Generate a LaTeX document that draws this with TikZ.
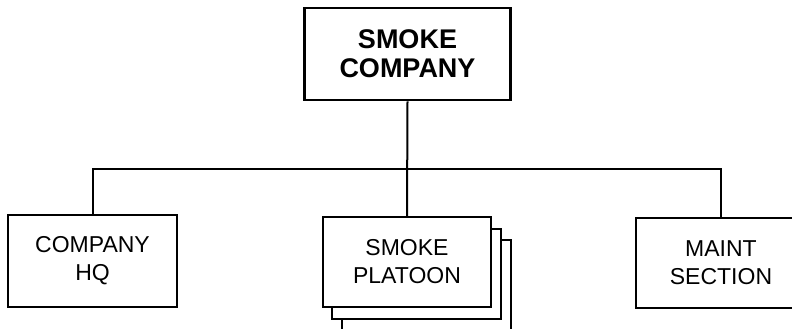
\documentclass[tikz,border=0pt]{standalone}
\usepackage{fontspec}
\setmainfont{Liberation Sans}
\begin{document}
\begin{tikzpicture}[x=1pt,y=-1pt,
  unit/.style={draw=black, fill=white, line width=2pt, align=center, inner sep=0pt,
    minimum height=90pt, font=\fontsize{23}{28}\selectfont},
  link/.style={line width=2pt}]
\useasboundingbox (0,0) rectangle (792,329);
\clip (0,0) rectangle (792,329);
\node[unit, line width=2.6pt, minimum width=206pt, minimum height=92pt,
  font=\bfseries\fontsize{27}{29}\selectfont] (top) at (407.5,54) {SMOKE\\COMPANY};
\node[unit, minimum width=169pt, minimum height=92pt] (hq) at (92.5,261) {COMPANY\\HQ};
\node[unit, minimum width=169pt] (sh3) at (426.5,285) {};
\node[unit, minimum width=169pt] (sh2) at (416.5,274) {};
\node[unit, minimum width=168pt] (plat) at (407,262) {SMOKE\\PLATOON};
\node[unit, minimum width=170pt] (maint) at (721,263) {MAINT\\SECTION};
\coordinate (bus) at (0,169);
\draw[link] (top.south) -- (plat.north);
\draw[link] (hq.north) |- (maint.north |- bus) -- (maint.north);
\end{tikzpicture}
\end{document}
